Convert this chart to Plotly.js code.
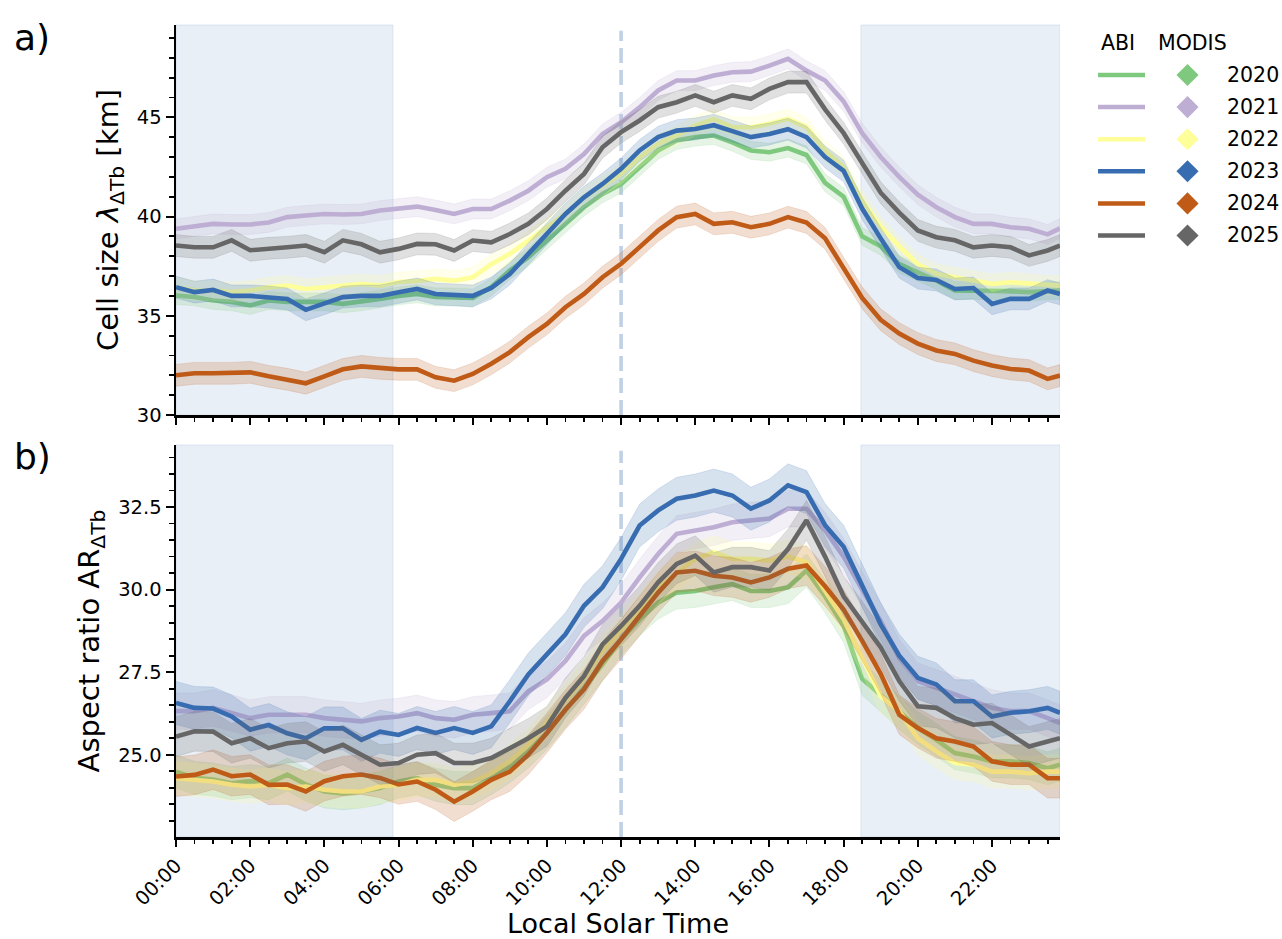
<!DOCTYPE html>
<html><head><meta charset="utf-8">
<script src="https://cdn.plot.ly/plotly-3.0.1.min.js"></script>
<style>html,body{margin:0;padding:0;background:#fff;} #chart{width:1282px;height:939px;}</style>
</head><body><div id="chart"></div>
<script>
// ---------- data ----------
const times = ['00:00','00:30','01:00','01:30','02:00','02:30','03:00','03:30','04:00','04:30','05:00','05:30',
  '06:00','06:30','07:00','07:30','08:00','08:30','09:00','09:30','10:00','10:30','11:00','11:30',
  '12:00','12:30','13:00','13:30','14:00','14:30','15:00','15:30','16:00','16:30','17:00','17:30',
  '18:00','18:30','19:00','19:30','20:00','20:30','21:00','21:30','22:00','22:30','23:00','23:30','23:50'];
const years = ['2020','2021','2022','2023','2024','2025'];

// panel a) cell size [km]
const cell2020 = [36.02,35.95,35.77,35.7,35.52,35.77,35.7,35.7,35.7,35.6,35.7,35.85,36.0,36.1,35.95,35.95,35.9,36.44,37.28,37.95,38.79,39.63,40.47,41.14,41.64,42.48,43.33,43.83,44.0,44.08,43.74,43.33,43.24,43.45,43.1,41.7,41.0,39.0,38.5,37.6,37.2,36.77,36.27,36.27,36.27,36.24,36.19,36.27,36.27];
const cell2021 = [39.38,39.5,39.63,39.6,39.6,39.7,39.97,40.05,40.13,40.1,40.13,40.3,40.4,40.5,40.33,40.13,40.38,40.38,40.8,41.3,41.98,42.4,43.15,44.16,44.75,45.5,46.35,46.85,46.85,47.1,47.27,47.3,47.6,47.95,47.35,46.85,45.8,44.2,43.0,42.0,41.1,40.47,39.97,39.63,39.63,39.46,39.38,39.1,39.4];
const cell2022 = [36.44,36.27,36.27,36.19,36.27,36.44,36.52,36.35,36.44,36.52,36.6,36.52,36.7,36.75,36.86,36.77,36.94,37.6,38.12,38.79,39.46,40.13,40.97,41.56,42.15,42.99,43.66,44.08,44.58,44.92,44.5,44.5,44.67,44.92,44.5,43.33,42.5,40.8,39.5,38.5,37.6,37.11,36.94,36.78,36.61,36.69,36.61,36.52,36.52];
const cell2023 = [36.44,36.19,36.3,36.0,36.0,35.95,35.85,35.3,35.6,35.94,36.0,36.0,36.19,36.35,36.1,36.05,36.0,36.4,37.1,38.12,39.13,40.13,40.97,41.64,42.4,43.33,44.0,44.33,44.41,44.6,44.3,44.0,44.16,44.4,44.0,43.0,42.3,40.4,38.9,37.45,36.9,36.8,36.35,36.4,35.6,35.85,35.85,36.27,36.1];
const cell2024 = [32.0,32.1,32.1,32.1,32.15,31.95,31.8,31.6,31.95,32.3,32.45,32.35,32.3,32.3,31.9,31.73,32.07,32.58,33.17,33.92,34.59,35.43,36.1,36.94,37.62,38.46,39.3,39.97,40.13,39.63,39.71,39.46,39.63,39.97,39.7,38.9,37.4,35.9,34.8,34.1,33.6,33.25,33.08,32.74,32.49,32.32,32.24,31.82,31.99];
const cell2025 = [38.54,38.45,38.45,38.8,38.3,38.4,38.45,38.54,38.2,38.8,38.6,38.2,38.37,38.62,38.6,38.29,38.79,38.7,39.12,39.63,40.38,41.3,42.15,43.49,44.25,44.84,45.51,45.76,46.1,45.76,46.1,45.93,46.43,46.77,46.77,45.4,44.2,42.7,41.2,40.2,39.3,38.96,38.8,38.45,38.54,38.45,38.04,38.29,38.54];
const cellErr = [0.45,0.5,0.5,0.55,0.55,0.55];

// panel b) aspect ratio
const ar2020 = [24.49,24.3,24.25,24.14,24.2,24.14,24.4,24.1,23.89,23.83,23.89,23.99,24.19,24.29,24.09,23.99,23.99,24.29,24.65,25.1,25.66,26.32,27.03,27.74,28.5,29.1,29.61,29.91,29.96,30.07,30.17,29.96,29.96,30.07,30.58,29.8,28.9,27.3,26.8,26.27,25.81,25.45,25.05,24.95,24.8,24.8,24.75,24.59,24.7];
const ar2021 = [26.32,26.32,26.42,26.27,26.11,26.21,26.21,26.21,26.11,26.06,26.01,26.11,26.16,26.26,26.11,26.06,26.21,26.26,26.32,26.92,27.28,27.84,28.6,29.05,29.61,30.37,31.08,31.69,31.79,31.89,32.04,32.1,32.15,32.45,32.45,31.79,31.0,30.0,29.05,27.94,27.23,27.03,26.82,26.62,26.42,26.32,26.32,26.11,25.96];
const ar2022 = [24.29,24.24,24.19,24.09,24.04,24.09,23.99,24.04,23.94,23.89,23.89,24.04,24.09,24.24,24.24,24.09,24.19,24.44,24.8,25.3,25.96,26.67,27.33,28.14,28.75,29.41,30.07,30.52,30.93,31.13,30.93,30.93,30.88,31.0,30.83,29.96,29.1,27.94,26.77,26.32,25.5,25.1,24.75,24.7,24.49,24.49,24.44,24.49,24.49];
const ar2023 = [26.57,26.42,26.4,26.16,25.76,25.9,25.65,25.5,25.8,25.8,25.45,25.7,25.6,25.81,25.66,25.81,25.66,25.86,26.62,27.43,28.04,28.65,29.51,30.07,30.93,31.94,32.4,32.75,32.85,33.0,32.85,32.45,32.7,33.16,32.95,31.95,31.3,30.1,28.95,28.0,27.33,27.13,26.62,26.62,26.16,26.27,26.32,26.42,26.27];
const ar2024 = [24.34,24.39,24.55,24.35,24.4,24.09,24.1,23.89,24.2,24.35,24.4,24.3,24.1,24.19,23.94,23.58,23.89,24.24,24.49,25.0,25.66,26.37,26.98,27.84,28.5,29.2,29.91,30.52,30.57,30.42,30.37,30.22,30.37,30.63,30.73,30.1,29.4,28.45,27.45,26.21,25.81,25.5,25.4,25.25,24.8,24.7,24.7,24.29,24.29];
const ar2025 = [25.55,25.71,25.7,25.35,25.5,25.2,25.35,25.4,25.1,25.3,25.0,24.7,24.75,25.0,25.05,24.75,24.75,24.9,25.2,25.5,25.86,26.72,27.38,28.34,28.9,29.51,30.22,30.78,31.03,30.52,30.68,30.68,30.58,31.23,32.1,31.0,29.8,29.05,28.25,27.23,26.47,26.42,26.11,25.91,25.96,25.61,25.25,25.4,25.5];
const arErr = [0.5,0.55,0.5,0.65,0.6,0.6];

const nightStart = ['00:00','18:28'];
const nightEnd = ['05:51','23:50'];
const noon = '12:00';
const tickTimes = ['00:00','02:00','04:00','06:00','08:00','10:00','12:00','14:00','16:00','18:00','20:00','22:00'];

// ---------- styles ----------
const colors = ['#7fc97f','#beaed4','#ffff99','#386cb0','#bf5b17','#666666'];
const FONT = 'DejaVu Sans, sans-serif';
const D = t => '2000-01-01 ' + t;
function rgba(hex, a){const n=parseInt(hex.slice(1),16);return `rgba(${n>>16},${(n>>8)&255},${n&255},${a})`;}

const xs = times.map(D);
const cellSeries = [cell2020,cell2021,cell2022,cell2023,cell2024,cell2025];
const arSeries = [ar2020,ar2021,ar2022,ar2023,ar2024,ar2025];

const traces = [];
function addPanel(series, errs, xa, ya){
  series.forEach((s,i)=>{
    const up = s.map(v=>v+errs[i]), lo = s.map(v=>v-errs[i]);
    traces.push({x: xs.concat(xs.slice().reverse()), y: up.concat(lo.slice().reverse()),
      xaxis: xa, yaxis: ya, type:'scatter', mode:'lines', fill:'toself',
      fillcolor: rgba(colors[i],0.2), line:{width:0.8,color:rgba(colors[i],0.2)}, hoverinfo:'skip', showlegend:false});
    traces.push({x: xs, y: s, xaxis: xa, yaxis: ya, type:'scatter', mode:'lines',
      line:{color:colors[i], width:4.6}, name: years[i], showlegend:false});
  });
}
addPanel(cellSeries, cellErr, 'x', 'y');
addPanel(arSeries, arErr, 'x2', 'y2');

// legend drawn on its own (pixel-like) axes
const rowY = i => 75 + 32.1*i;
years.forEach((yr,i)=>{
  traces.push({x:[1098,1145], y:[rowY(i),rowY(i)], xaxis:'x3', yaxis:'y3', mode:'lines',
    line:{color:colors[i], width:4.5}, showlegend:false, hoverinfo:'skip'});
  traces.push({x:[1187.5], y:[rowY(i)], xaxis:'x3', yaxis:'y3', mode:'markers',
    marker:{symbol:'diamond', size:17, color:colors[i], line:{width:0}}, showlegend:false, hoverinfo:'skip'});
});

const axisCommon = {showline:true, linecolor:'black', linewidth:2.5, ticks:'outside', tickcolor:'black',
  tickwidth:2, zeroline:false, showgrid:false, mirror:false,
  tickfont:{family:FONT, size:19.5, color:'black'}};
const xCommon = Object.assign({}, axisCommon, {type:'date', domain:[0,0.8007], range:[D('00:00'), D('23:50')],
  tickmode:'array', tickvals: tickTimes.map(D), ticktext: tickTimes, ticklen:7,
  minor:{dtick:1800000, tick0:D('00:00'), ticks:'outside', ticklen:4, tickwidth:1.8, tickcolor:'black'}});

const shapes = [];
[['x','y'],['x2','y2']].forEach(([xa,ya])=>{
  nightStart.forEach((s,k)=>{
    shapes.push({type:'rect', xref:xa, yref:ya+' domain', x0:D(s), x1:D(nightEnd[k]), y0:0, y1:1,
      fillcolor:'rgba(176,196,222,0.28)', line:{width:1, color:'rgba(176,196,222,0.35)'}, layer:'below'});
  });
  shapes.push({type:'line', xref:xa, yref:ya+' domain', x0:D(noon), x1:D(noon), y0:0, y1:0.985,
    line:{color:'rgba(176,196,222,0.8)', width:3.6, dash:'15px,7px'}, layer:'below'});
});

const annotations = [
  {text:'a)', xref:'paper', yref:'paper', x:-0.1486, y:0.985, xanchor:'left', yanchor:'middle', showarrow:false,
   font:{family:FONT, size:36, color:'black'}},
  {text:'b)', xref:'paper', yref:'paper', x:-0.1486, y:0.468, xanchor:'left', yanchor:'middle', showarrow:false,
   font:{family:FONT, size:36, color:'black'}},
  {text:'ABI', xref:'x3', yref:'y3', x:1118, y:42.5, showarrow:false, xanchor:'center', yanchor:'middle',
   font:{family:FONT, size:20.5, color:'black'}},
  {text:'MODIS', xref:'x3', yref:'y3', x:1192.5, y:42.5, showarrow:false, xanchor:'center', yanchor:'middle',
   font:{family:FONT, size:20.5, color:'black'}}
];
years.forEach((yr,i)=>annotations.push({text:yr, xref:'x3', yref:'y3', x:1225, y:rowY(i), showarrow:false,
  xanchor:'left', yanchor:'middle', font:{family:FONT, size:20.5, color:'black'}}));

const layout = {
  width:1282, height:939, paper_bgcolor:'white', plot_bgcolor:'white',
  margin:{l:176, r:2, t:25, b:102},
  font:{family:FONT, color:'black'},
  showlegend:false,
  xaxis: Object.assign({}, xCommon, {anchor:'y', showticklabels:false}),
  xaxis2: Object.assign({}, xCommon, {anchor:'y2', tickangle:-45,
    title:{text:'Local Solar Time', font:{family:FONT, size:27, color:'black'}, standoff:8}}),
  yaxis: Object.assign({}, axisCommon, {anchor:'x', domain:[0.5197,1], range:[30,49.65],
    tickmode:'linear', tick0:30, dtick:5, ticklen:8,
    minor:{dtick:1, tick0:30, ticks:'outside', ticklen:4.5, tickwidth:1.8, tickcolor:'black'},
    title:{text:'Cell size <i>λ</i><sub>ΔTb</sub> [km]', font:{family:FONT, size:29, color:'black'}, standoff:10}}),
  yaxis2: Object.assign({}, axisCommon, {anchor:'x2', domain:[0,0.4828], range:[22.51,34.38],
    tickmode:'linear', tick0:25, dtick:2.5, tickformat:'.1f', ticklen:8,
    minor:{dtick:0.5, tick0:25, ticks:'outside', ticklen:4.5, tickwidth:1.8, tickcolor:'black'},
    title:{text:'Aspect ratio AR<sub>ΔTb</sub>', font:{family:FONT, size:29, color:'black'}, standoff:10}}),
  xaxis3: {domain:[0.8243,1], range:[1086,1280], visible:false, anchor:'y3', fixedrange:true},
  yaxis3: {domain:[0.7106,1], range:[260,25], visible:false, anchor:'x3', fixedrange:true},
  shapes: shapes,
  annotations: annotations
};

Plotly.newPlot('chart', traces, layout, {displayModeBar:false, staticPlot:true});
</script></body></html>
